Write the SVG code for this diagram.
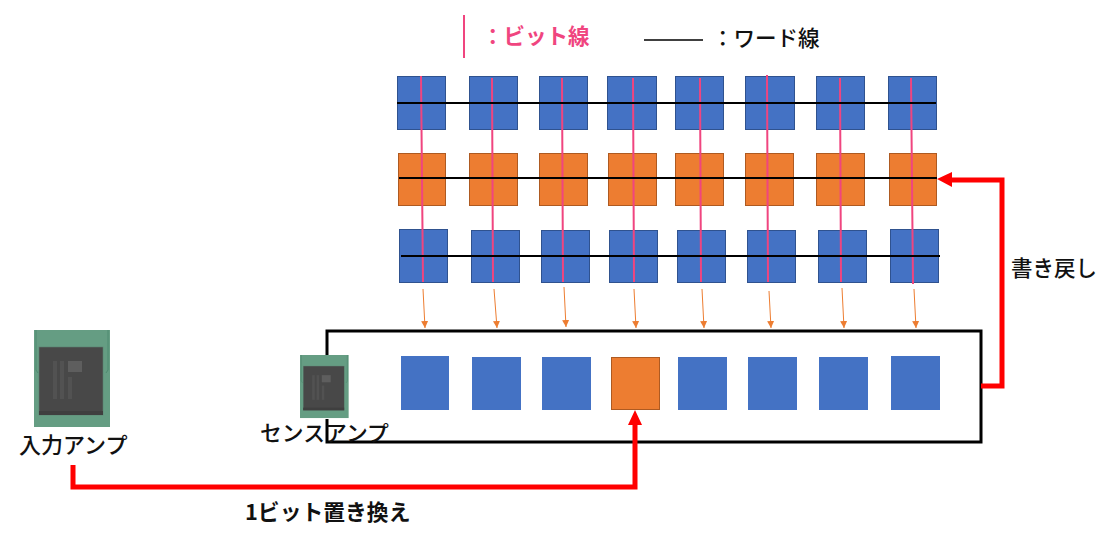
<svg xmlns="http://www.w3.org/2000/svg" width="1105" height="533" viewBox="0 0 1105 533">
<style>
text{font-family:"Noto Sans CJK JP","Noto Sans",sans-serif;font-weight:500;fill:#111}
.bold{font-weight:700}
.b{fill:#4472c4;stroke:#2f528f;stroke-width:1}
.o{fill:#ed7d31;stroke:#ae5a21;stroke-width:1}
.f{fill:#4472c4}
.pk{stroke:#f0457f;stroke-width:2;fill:none}
.wd{stroke:#000;stroke-width:2;fill:none}
.ar{stroke:#ed7d31;stroke-width:1;fill:none;marker-end:url(#oa)}
.rd{stroke:#f00;stroke-width:5;fill:none}
</style>
<defs>
<marker id="oa" markerUnits="userSpaceOnUse" markerWidth="8" markerHeight="8" refX="7" refY="3.5" orient="auto"><path d="M0,0L7,3.5L0,7Z" fill="#ed7d31"/></marker>
<g id="chip">
<rect x="0" y="0" width="76" height="97" fill="#659d83"/>
<path d="M2,0V40L4,43M74,0V40L72,43" stroke="#4f8a70" fill="none"/>
<rect x="5" y="17" width="64" height="68" fill="#484848" stroke="#5d7f70" stroke-width=".6"/>
<rect x="5" y="81" width="64" height="4" fill="#3f3f3f"/>
<rect x="19" y="31" width="4" height="38" fill="#525252"/><rect x="26" y="31" width="4" height="38" fill="#525252"/><rect x="34" y="47" width="4" height="22" fill="#525252"/><rect x="34" y="31" width="14" height="11" fill="#5e5e5e"/>
</g>
</defs>
<g id="legend">
<path class="pk" d="M464,15V58"/>
<text x="482" y="44" font-size="21.5" class="bold" style="fill:#f0457f">：ビット線</text>
<path d="M644,40H703" stroke="#000" stroke-width="1.5"/>
<text x="712" y="46" font-size="21.5">：ワード線</text>
</g>
<g id="row1">
<rect class="b" x="397.5" y="76.5" width="48" height="53"/><rect class="b" x="469.5" y="76.5" width="48" height="53"/><rect class="b" x="539.5" y="76.5" width="48" height="53"/><rect class="b" x="607.5" y="76.5" width="49" height="53"/><rect class="b" x="675.5" y="76.5" width="48" height="53"/><rect class="b" x="745.5" y="76.5" width="49" height="53"/><rect class="b" x="816.5" y="76.5" width="48" height="53"/><rect class="b" x="888.5" y="76.5" width="48" height="53"/>
</g>
<g id="row2">
<rect class="o" x="398.5" y="153.5" width="47" height="52"/><rect class="o" x="469.5" y="153.5" width="48" height="52"/><rect class="o" x="539.5" y="153.5" width="48" height="52"/><rect class="o" x="608.5" y="153.5" width="48" height="52"/><rect class="o" x="675.5" y="153.5" width="48" height="52"/><rect class="o" x="745.5" y="153.5" width="48" height="52"/><rect class="o" x="816.5" y="153.5" width="48" height="52"/><rect class="o" x="889.5" y="153.5" width="47" height="52"/>
</g>
<g id="row3">
<rect class="b" x="399.5" y="229.5" width="48" height="53"/><rect class="b" x="471.5" y="230.5" width="48" height="52"/><rect class="b" x="541.5" y="230.5" width="48" height="52"/><rect class="b" x="609.5" y="230.5" width="48" height="52"/><rect class="b" x="677.5" y="230.5" width="48" height="52"/><rect class="b" x="747.5" y="230.5" width="48" height="52"/><rect class="b" x="818.5" y="230.5" width="48" height="52"/><rect class="b" x="890.5" y="229.5" width="48" height="53"/>
</g>
<g id="sense-row">
<rect class="f" x="401" y="356" width="48" height="54"/><rect class="f" x="472" y="357" width="49" height="53"/><rect class="f" x="542" y="357" width="49" height="53"/><rect x="611.5" y="357.5" width="48" height="52" fill="#ed7d31" stroke="#ae5a21"/><rect class="f" x="678" y="357" width="49" height="53"/><rect class="f" x="748" y="357" width="49" height="53"/><rect class="f" x="819" y="357" width="49" height="53"/><rect class="f" x="891" y="356" width="49" height="54"/>
</g>
<g id="connectors">
<path class="pk" d="M421,76L423,282M492,78L493,282M562,78L563,282M633,78L634,282M700,78L701,282M767,75L768,282M840,78L841,282M911,78L913,284"/>
<path class="wd" d="M397,103H936M399,178H937M401,256H940"/>
<path class="ar" d="M423,289L425,328"/><path class="ar" d="M494,289L497,328"/><path class="ar" d="M564,287L566,327"/><path class="ar" d="M634,289L636,328"/><path class="ar" d="M702,289L704,328"/><path class="ar" d="M769,291L771,328"/><path class="ar" d="M842,288L844,328"/><path class="ar" d="M914,289L916,328"/>
<path d="M327,356V331H981V442H327V419" fill="none" stroke="#000" stroke-width="3"/>
<path class="rd" d="M981,386H1002V180H950"/>
<path d="M937,179L952,172V187Z" fill="#f00"/>
<path class="rd" d="M73,465V487H635V424"/>
<path d="M635,410L628,425H642Z" fill="#f00"/>
</g>
<g id="input-amp"><use href="#chip" transform="translate(34,330)"/><text x="19" y="453" font-size="22">入力アンプ</text></g>
<g id="sense-amp"><use href="#chip" transform="translate(300,355) scale(.64,.65)"/><text x="260" y="441" font-size="21.8">センスアンプ</text></g>
<text x="1011" y="276" font-size="21.5">書き戻し</text>
<text x="245" y="520" font-size="21.8" class="bold">1ビット置き換え</text>
</svg>
